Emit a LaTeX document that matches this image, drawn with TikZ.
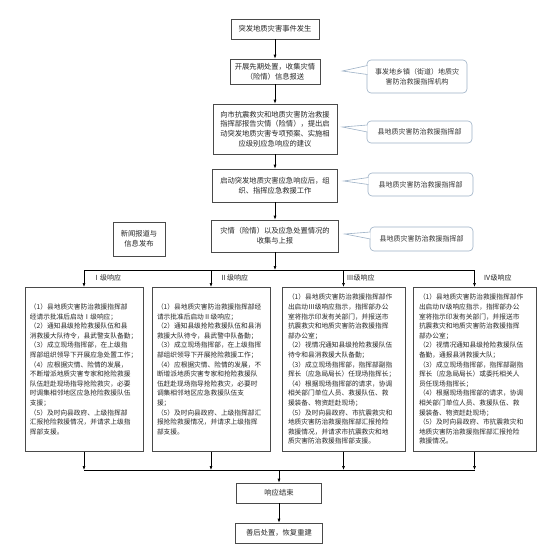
\documentclass[tikz,border=0pt]{standalone}
\usepackage{fontspec}
\setmainfont{Noto Sans CJK SC}
\usetikzlibrary{calc,arrows.meta}
\definecolor{calloutblue}{HTML}{9DB1C6}
\definecolor{boxgray}{HTML}{4A4A4A}
\begin{document}
\begin{tikzpicture}[x=1pt,y=-1pt,
 flowbox/.style={draw=boxgray,line width=0.6pt,align=center,inner sep=2pt,text=black!85,font=\fontsize{7.3}{9.8}\selectfont},
 levelbox/.style={draw=boxgray,line width=0.6pt,align=left,anchor=north,inner ysep=2pt,text=black!85,font=\fontsize{6.7}{9.6}\selectfont},
 callout/.style={draw=calloutblue,rounded corners=4pt,line width=0.6pt,fill=white,align=center,text=black!80,font=\fontsize{7}{10}\selectfont},
 wedge/.style={draw=calloutblue,line width=0.6pt,fill=white},
 arr/.style={-{Latex[length=4pt,width=3pt]},line width=0.6pt},
 lvl/.style={anchor=west,inner sep=0pt,text=black!85,font=\fontsize{7}{8}\selectfont}]
 \useasboundingbox (0,0) rectangle (558,560);
 \node[flowbox,minimum width=88pt,minimum height=20pt] (start) at (275,29) {突发地质灾害事件发生};
 \node[flowbox,minimum width=90pt,minimum height=25pt] (early) at (275,71.5) {开展先期处置，收集灾情\\（险情）信息报送};
 \node[flowbox,minimum width=124pt,minimum height=50pt] (report) at (275,129) {向市抗震救灾和地质灾害防治救援\\指挥部报告灾情（险情），提出启\\动突发地质灾害专项预案、实施相\\应级别应急响应的建议};
 \node[flowbox,minimum width=125pt,minimum height=33pt] (launch) at (275,185.5) {启动突发地质灾害应急响应后，组\\织、指挥应急救援工作};
 \node[flowbox,minimum width=127pt,minimum height=32pt] (collect) at (275,236) {灾情（险情）以及应急处置情况的\\收集与上报};
 \node[flowbox,minimum width=52pt,minimum height=34pt] (news) at (139,239) {新闻报道与\\信息发布};
 \draw[arr] (start) -- (early);
 \draw[arr] (early) -- (report);
 \draw[arr] (report) -- (launch);
 \draw[arr] (launch) -- (collect);
 % callouts
 \node[callout,minimum width=100pt,minimum height=33pt] (town) at (417,76.5) {事发地乡镇（街道）地质灾\\害防治救援指挥机构};
 \node[callout,minimum width=105pt,minimum height=22pt] (cmdA) at (419.5,132) {县地质灾害防治救援指挥部};
 \node[callout,minimum width=105pt,minimum height=23pt] (cmdB) at (420.5,184.5) {县地质灾害防治救援指挥部};
 \node[callout,minimum width=103pt,minimum height=24pt] (cmdC) at (421.5,239) {县地质灾害防治救援指挥部};
 \coordinate (tipT) at ($(early.east)+(22,-0.5)$);
 \coordinate (tipA) at ($(report.east)+(5,-2)$);
 \coordinate (tipB) at ($(launch.east)+(6,-4.5)$);
 \coordinate (tipC) at ($(collect.east)+(6,-2)$);
 \draw[wedge] ($(town.west)+(0.7,-11)$) -- (tipT) -- ($(town.west)+(0.7,-2)$);
 \draw[wedge] ($(cmdA.west)+(0.7,-7)$) -- (tipA) -- ($(cmdA.west)+(0.7,0)$);
 \draw[wedge] ($(cmdB.west)+(0.7,-7)$) -- (tipB) -- ($(cmdB.west)+(0.7,0)$);
 \draw[wedge] ($(cmdC.west)+(0.7,-7)$) -- (tipC) -- ($(cmdC.west)+(0.7,0)$);
 % response levels
 \node[levelbox,text width=108pt,inner xsep=5pt,minimum height=164pt] (lv1) at (84,287) {（1）县地质灾害防治救援指挥部\\经请示批准后启动Ⅰ级响应；\\（2）通知县级抢险救援队伍和县\\消救援大队待令，县武警支队备勤；\\（3）成立现场指挥部，在上级指\\挥部组织领导下开展应急处置工作；\\（4）应根据灾情、险情的发展，\\不断增派地质灾害专家和抢险救援\\队伍赶赴现场指导抢险救灾，必要\\时调集相邻地区应急抢险救援队伍\\支援；\\（5）及时向县政府、上级指挥部\\汇报抢险救援情况，并请求上级指\\挥部支援。};
 \node[levelbox,text width=108pt,inner xsep=5pt,minimum height=164pt] (lv2) at (211,287) {（1）县地质灾害防治救援指挥部经\\请示批准后启动Ⅱ级响应；\\（2）通知县级抢险救援队伍和县消\\救援大队待令，县武警中队备勤；\\（3）成立现场指挥部，在上级指挥\\部组织领导下开展抢险救援工作；\\（4）应根据灾情、险情的发展，不\\断增派地质灾害专家和抢险救援队\\伍赶赴现场指导抢险救灾，必要时\\调集相邻地区应急救援队伍支\\援；\\（5）及时向县政府、上级指挥部汇\\报抢险救援情况，并请求上级指挥\\部支援。};
 \node[levelbox,text width=111pt,inner xsep=6pt,minimum height=164pt] (lv3) at (343.5,287) {（1）县地质灾害防治救援指挥部作\\出启动Ⅲ级响应指示，指挥部办公\\室将指示印发有关部门，并报送市\\抗震救灾和地质灾害防治救援指挥\\部办公室；\\（2）视情况通知县级抢险救援队伍\\待令和县消救援大队备勤；\\（3）成立现场指挥部，指挥部副指\\挥长（应急局局长）任现场指挥长；\\（4）根据现场指挥部的请求，协调\\相关部门单位人员、救援队伍、救\\援装备、物资赶赴现场；\\（5）及时向县政府、市抗震救灾和\\地质灾害防治救援指挥部汇报抢险\\救援情况，并请求市抗震救灾和地\\质灾害防治救援指挥部支援。};
 \node[levelbox,text width=111pt,inner xsep=6pt,minimum height=164pt] (lv4) at (474.5,287) {（1）县地质灾害防治救援指挥部作\\出启动Ⅳ级响应指示，指挥部办公\\室将指示印发有关部门，并报送市\\抗震救灾和地质灾害防治救援指挥\\部办公室；\\（2）视情况通知县级抢险救援队伍\\备勤，通报县消救援大队；\\（3）成立现场指挥部，指挥部副指\\挥长（应急局局长）或委托相关人\\员任现场指挥长；\\（4）根据现场指挥部的请求，协调\\相关部门单位人员、救援队伍、救\\援装备、物资赶赴现场；\\（5）及时向县政府、市抗震救灾和\\地质灾害防治救援指挥部汇报抢险\\救援情况。};
 \coordinate (ytop) at (0,270);
 \coordinate (ybot) at (0,470);
 \draw[arr] (collect) -- (collect.south |- ytop);
 \draw[line width=0.6pt] (lv1.north |- ytop) -- (lv4.north |- ytop);
 \draw[arr] (lv1.north |- ytop) -- (lv1.north);
 \draw[arr] (lv2.north |- ytop) -- (lv2.north);
 \draw[arr] (lv3.north |- ytop) -- (lv3.north);
 \draw[arr] (lv4.north |- ytop) -- (lv4.north);
 \node[lvl] (lab1) at ($(lv1.north |- ytop)+(9,8)$) {Ⅰ级响应};
 \node[lvl] (lab2) at ($(lv2.north |- ytop)+(9,8)$) {Ⅱ级响应};
 \node[lvl] (lab3) at ($(lv3.north |- ytop)+(3,8)$) {Ⅲ级响应};
 \node[lvl] (lab4) at ($(lv4.north |- ytop)+(9,8)$) {Ⅳ级响应};
 % end of response
 \draw[arr] (lv1.south) -- (lv1.south |- ybot);
 \draw[arr] (lv2.south) -- (lv2.south |- ybot);
 \draw[arr] (lv3.south) -- (lv3.south |- ybot);
 \draw[arr] (lv4.south) -- (lv4.south |- ybot);
 \draw[line width=0.6pt] (lv1.south |- ybot) -- (lv4.south |- ybot);
 \node[flowbox,minimum width=85pt,minimum height=20pt] (finish) at (279,493) {响应结束};
 \node[flowbox,minimum width=87pt,minimum height=20pt] (recover) at (279,533) {善后处置，恢复重建};
 \draw[arr] (finish.north |- ybot) -- (finish);
 \draw[arr] (finish) -- (recover);
\end{tikzpicture}
\end{document}
